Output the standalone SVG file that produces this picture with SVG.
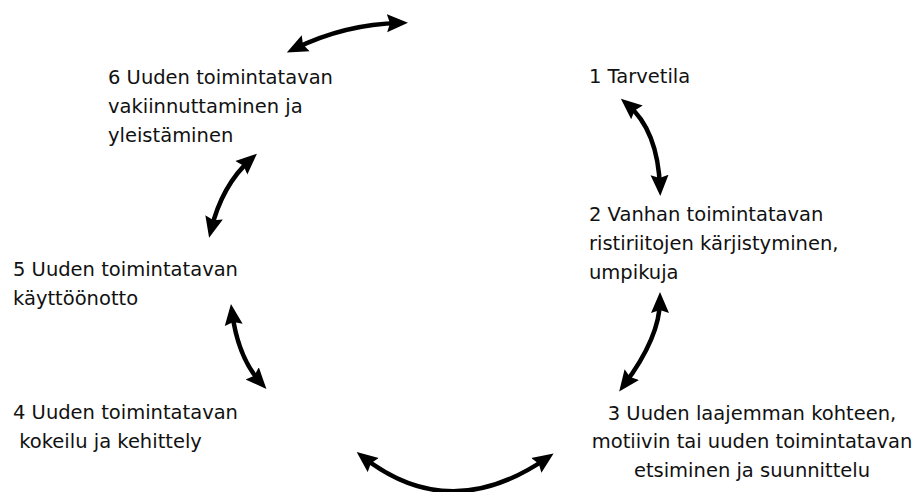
<svg xmlns="http://www.w3.org/2000/svg" width="912" height="492" viewBox="0 0 912 492">
<style>
text{font-family:"DejaVu Sans","Noto Sans",sans-serif;font-size:19.5px;fill:#111}
.c{text-anchor:middle}
.arr{fill:none;stroke:#000;stroke-width:4.5;marker-start:url(#h);marker-end:url(#h)}
</style>
<defs>
<marker id="h" markerUnits="userSpaceOnUse" markerWidth="22" markerHeight="20" refX="13" refY="9" orient="auto-start-reverse" viewBox="0 0 22 18">
<path d="M0,0 L21,9 L0,18 L3,9 z" fill="#000"/>
</marker>
</defs>
<rect width="912" height="492" fill="#fff"/>
<g id="connectors">
<path class="arr" d="M294,49 Q345,24 400,23"/>
<path class="arr" d="M627,104 Q658,130 660,188"/>
<path class="arr" d="M660,300 Q660,337 624,385"/>
<path class="arr" d="M363,457 Q450,525 547,458"/>
<path class="arr" d="M232,312 Q238,358 261,383"/>
<path class="arr" d="M251,159 Q222,185 211,230"/>
</g>
<g id="node1"><text x="589" y="83">1 Tarvetila</text></g>
<g id="node2"><text x="589" y="221">2 Vanhan toimintatavan</text><text x="589" y="250">ristiriitojen kärjistyminen,</text><text x="589" y="279">umpikuja</text></g>
<g id="node3"><text class="c" x="752" y="420">3 Uuden laajemman kohteen,</text><text class="c" x="752" y="448">motiivin tai uuden toimintatavan</text><text class="c" x="752" y="477">etsiminen ja suunnittelu</text></g>
<g id="node4"><text x="13" y="419">4 Uuden toimintatavan</text><text x="13" y="448" xml:space="preserve"> kokeilu ja kehittely</text></g>
<g id="node5"><text x="13" y="276">5 Uuden toimintatavan</text><text x="13" y="305">käyttöönotto</text></g>
<g id="node6"><text x="108" y="84">6 Uuden toimintatavan</text><text x="108" y="113">vakiinnuttaminen ja</text><text x="108" y="142">yleistäminen</text></g>
</svg>
